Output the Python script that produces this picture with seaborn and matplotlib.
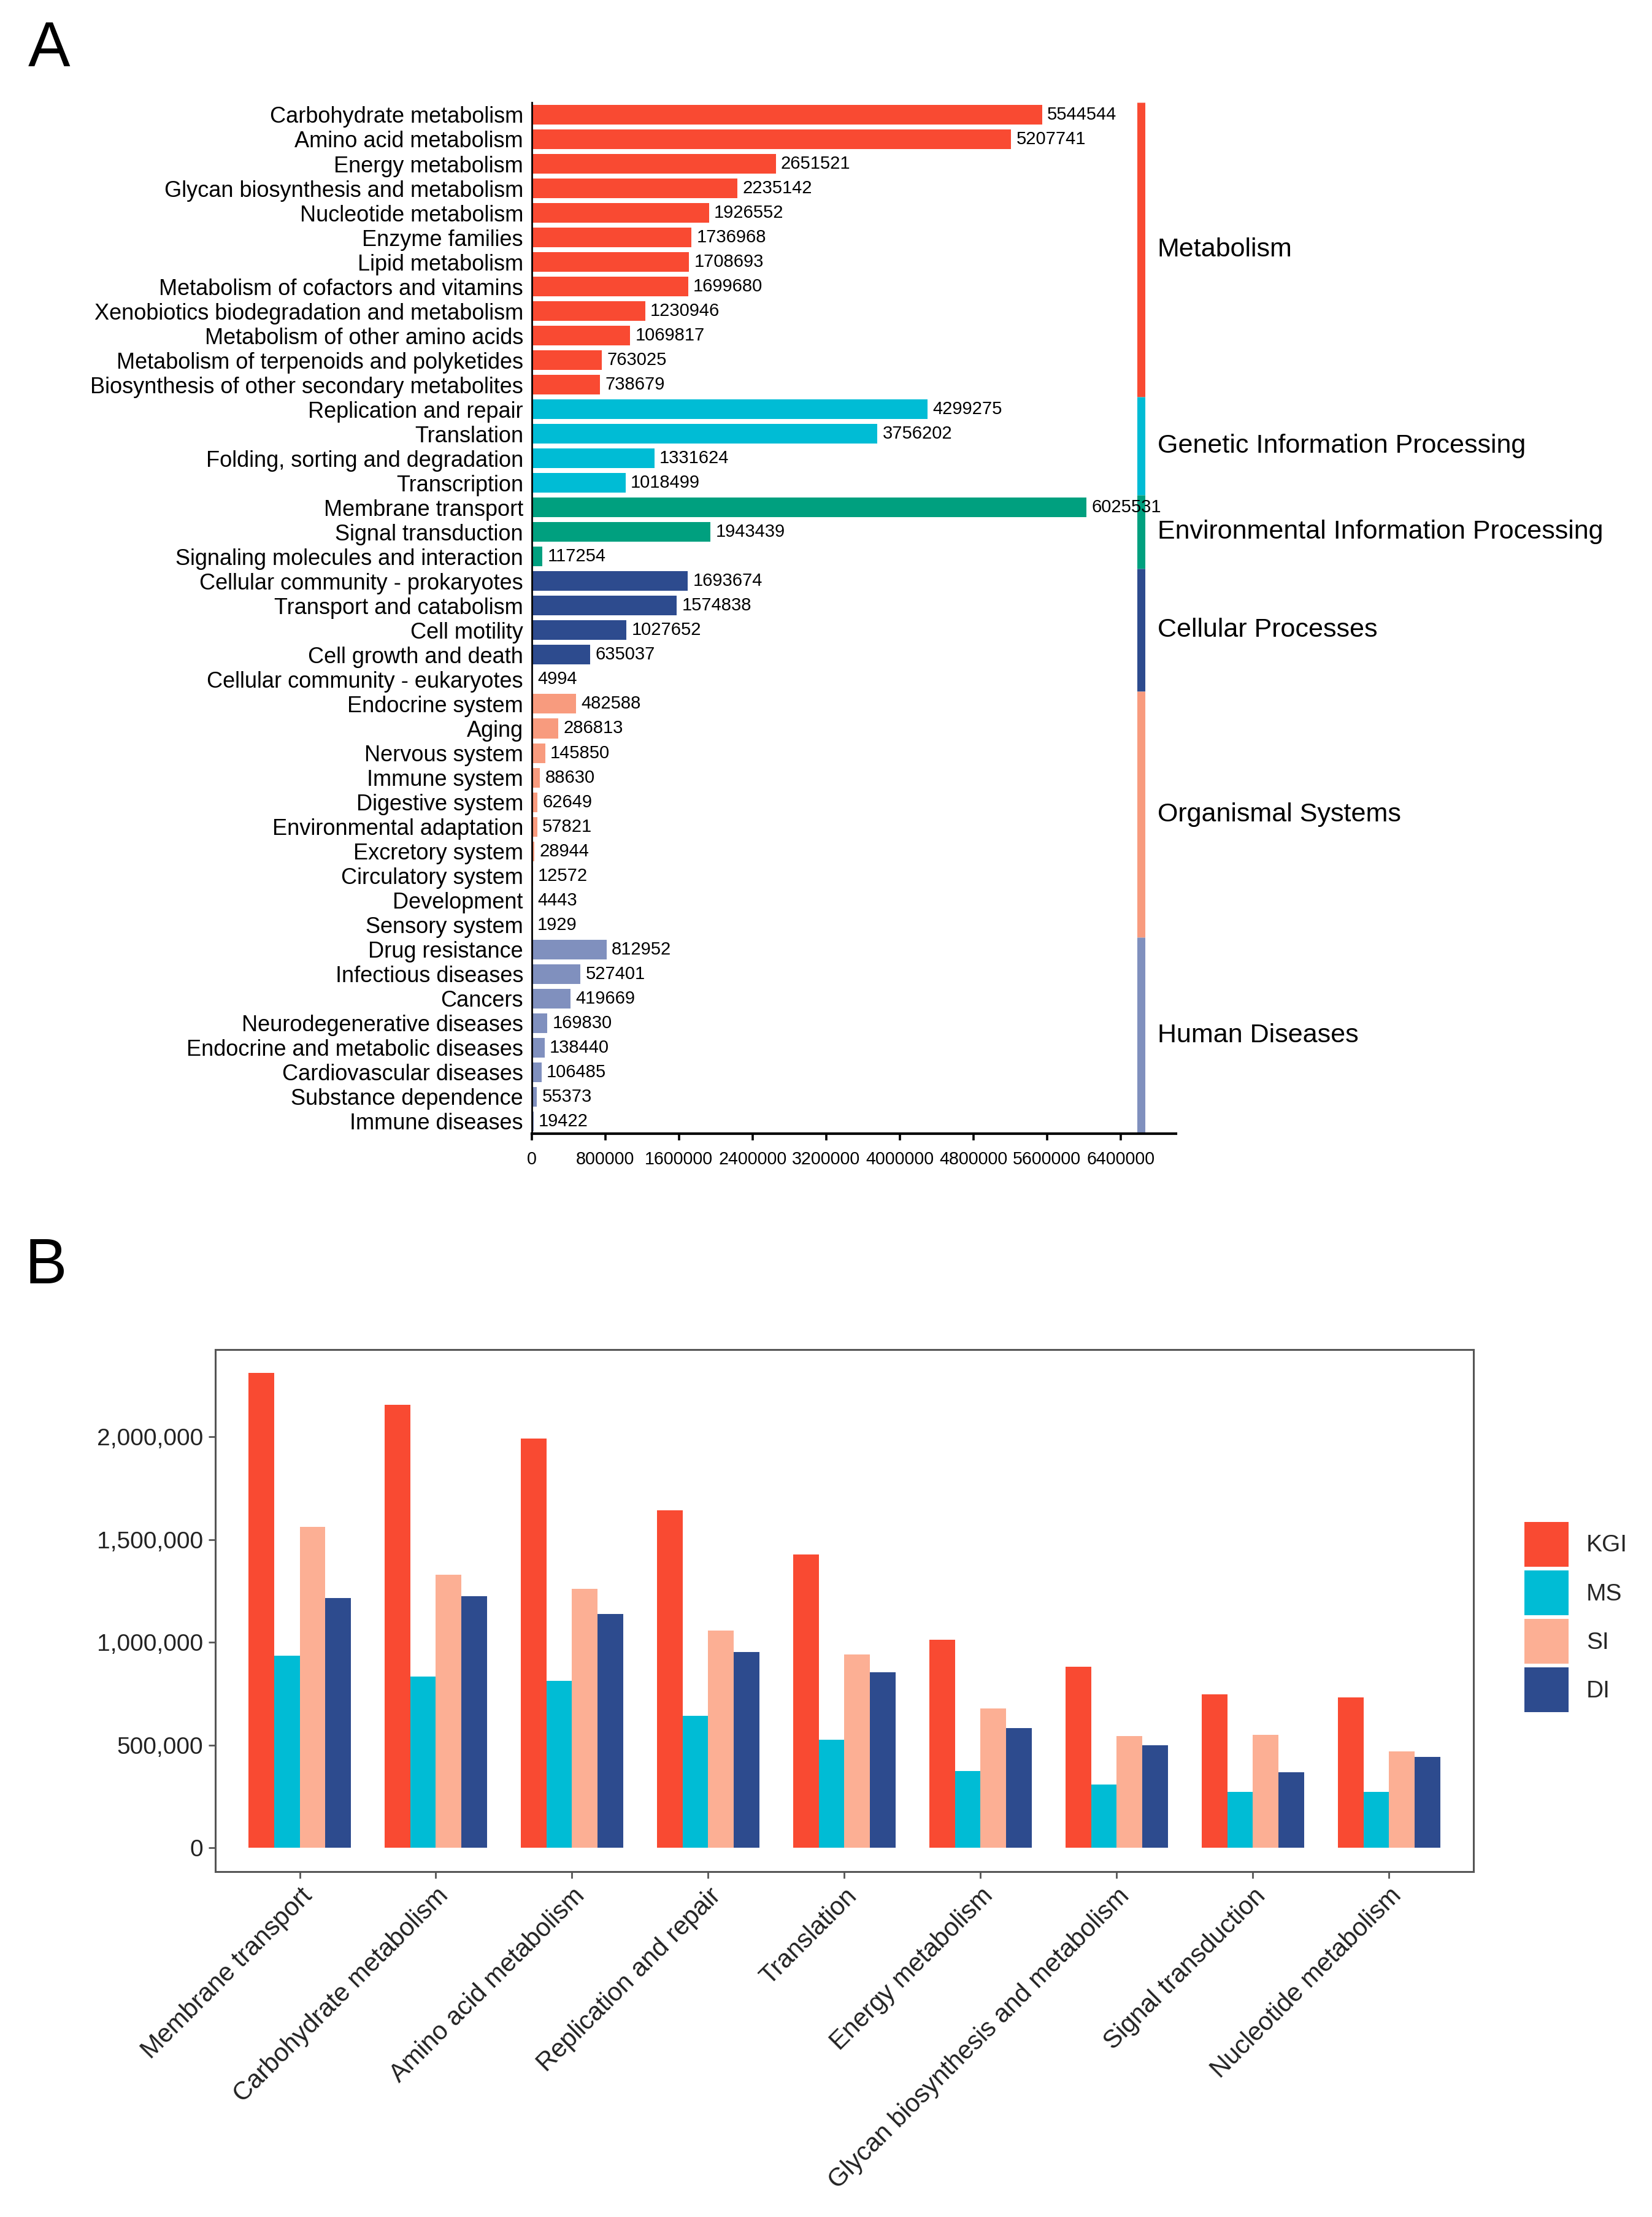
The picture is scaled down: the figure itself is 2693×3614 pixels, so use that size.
import pandas as pd
import matplotlib
matplotlib.use("Agg")
import matplotlib.pyplot as plt
import matplotlib.ticker as mticker
import seaborn as sns

# ---- panel A data (KEGG level 2 pathway counts) ----
pathways_a = [
    "Carbohydrate metabolism", "Amino acid metabolism", "Energy metabolism",
    "Glycan biosynthesis and metabolism", "Nucleotide metabolism", "Enzyme families",
    "Lipid metabolism", "Metabolism of cofactors and vitamins",
    "Xenobiotics biodegradation and metabolism", "Metabolism of other amino acids",
    "Metabolism of terpenoids and polyketides", "Biosynthesis of other secondary metabolites",
    "Replication and repair", "Translation", "Folding, sorting and degradation", "Transcription",
    "Membrane transport", "Signal transduction", "Signaling molecules and interaction",
    "Cellular community - prokaryotes", "Transport and catabolism", "Cell motility",
    "Cell growth and death", "Cellular community - eukaryotes",
    "Endocrine system", "Aging", "Nervous system", "Immune system", "Digestive system",
    "Environmental adaptation", "Excretory system", "Circulatory system", "Development",
    "Sensory system",
    "Drug resistance", "Infectious diseases", "Cancers", "Neurodegenerative diseases",
    "Endocrine and metabolic diseases", "Cardiovascular diseases", "Substance dependence",
    "Immune diseases",
]
counts_a = [
    5544544, 5207741, 2651521, 2235142, 1926552, 1736968, 1708693, 1699680, 1230946,
    1069817, 763025, 738679,
    4299275, 3756202, 1331624, 1018499,
    6025531, 1943439, 117254,
    1693674, 1574838, 1027652, 635037, 4994,
    482588, 286813, 145850, 88630, 62649, 57821, 28944, 12572, 4443, 1929,
    812952, 527401, 419669, 169830, 138440, 106485, 55373, 19422,
]
groups = ["Metabolism", "Genetic Information Processing", "Environmental Information Processing",
          "Cellular Processes", "Organismal Systems", "Human Diseases"]
group_sizes = [12, 4, 3, 5, 10, 8]
group_colors = ["#F94A32", "#00BCD5", "#00A07F", "#2D4B8E", "#F89B7E", "#8090BE"]

# ---- panel B data (top pathways per sample) ----
pathways_b = ["Membrane transport", "Carbohydrate metabolism", "Amino acid metabolism",
              "Replication and repair", "Translation", "Energy metabolism",
              "Glycan biosynthesis and metabolism", "Signal transduction", "Nucleotide metabolism"]
samples = ["KGI", "MS", "SI", "DI"]
kgi = [2309000, 2155000, 1990000, 1642000, 1426000, 1011000, 880000, 746000, 732000]
ms = [936000, 833000, 812000, 643000, 526000, 375000, 307000, 273000, 273000]
si = [1561000, 1328000, 1261000, 1057000, 941000, 679000, 543000, 550000, 471000]
di = [1216000, 1225000, 1138000, 952000, 855000, 582000, 498000, 369000, 442000]
sample_colors = ["#F94A32", "#00BCD5", "#FCAF94", "#2D4B8E"]

sns.set_theme(style="white")
plt.rcParams["font.family"] = ["Liberation Sans", "DejaVu Sans"]

fig = plt.figure(figsize=(2693 / 200, 3614 / 200), dpi=200)

# ================= panel A =================
group_col = []
for g, n in zip(groups, group_sizes):
    group_col += [g] * n
dfA = pd.DataFrame({"pathway": pathways_a, "count": counts_a, "group": group_col})

axA = fig.add_axes([0.3219, 0.4887, 0.3899, 0.4651])
sns.barplot(data=dfA, x="count", y="pathway", hue="group", hue_order=groups,
            palette=group_colors, dodge=False, orient="h", width=0.8,
            errorbar=None, legend=False, saturation=1, linewidth=0, ax=axA)
for c in axA.containers:
    axA.bar_label(c, fmt="%d", padding=3, fontsize=10.5, color="black")

axA.set_xlim(0, 7000000)
axA.set_ylim(len(pathways_a) - 0.5, -0.5)
axA.set_xticks(range(0, 6400001, 800000))
axA.xaxis.set_major_formatter(mticker.FuncFormatter(lambda v, p: f"{int(v)}"))
axA.set_xlabel("")
axA.set_ylabel("")
axA.tick_params(axis="y", length=0, pad=5, labelsize=13, colors="black")
axA.tick_params(axis="x", length=4, width=1.3, direction="out", pad=6, labelsize=10.3,
                colors="black", bottom=True)
for s in ["top", "right"]:
    axA.spines[s].set_visible(False)
axA.spines["left"].set_color("black")
axA.spines["left"].set_linewidth(1.0)
axA.spines["bottom"].set_color("black")
axA.spines["bottom"].set_linewidth(1.5)

# category strip on the right
start = 0
for g, n, col in zip(groups, group_sizes, group_colors):
    axA.vlines(6620000, start - 0.5, start + n - 0.5, colors=col, lw=4.7)
    axA.text(6800000, start + (n - 1) / 2, g, va="center", ha="left", fontsize=15.5,
             color="black", clip_on=False)
    start += n

fig.text(0.017, 0.991, "A", fontsize=37, va="top", ha="left", color="black")

# ================= panel B =================
dfB = pd.DataFrame({"pathway": pathways_b, "KGI": kgi, "MS": ms, "SI": si, "DI": di})
dfB = dfB.melt(id_vars="pathway", var_name="sample", value_name="count")

axB = fig.add_axes([0.1303, 0.1558, 0.7616, 0.2355])
sns.barplot(data=dfB, x="pathway", y="count", hue="sample", hue_order=samples,
            palette=sample_colors, width=0.75, errorbar=None, saturation=1,
            linewidth=0, ax=axB)
axB.set_xlim(-0.62, len(pathways_b) - 1 + 0.62)
axB.set_ylim(-115000, 2424000)
axB.set_yticks(range(0, 2000001, 500000))
axB.yaxis.set_major_formatter(mticker.FuncFormatter(lambda v, p: f"{v:,.0f}"))
axB.set_xlabel("")
axB.set_ylabel("")
axB.tick_params(axis="both", length=4, width=1.0, colors="#555555", labelcolor="#222222",
                labelsize=14, pad=3, direction="out", left=True, bottom=True)
axB.tick_params(axis="x", labelsize=15)
plt.setp(axB.get_xticklabels(), rotation=45, ha="right", va="top", rotation_mode="anchor")
for s in axB.spines.values():
    s.set_visible(True)
    s.set_color("#555555")
    s.set_linewidth(1.1)

axB.legend(title=None, loc="upper left", bbox_to_anchor=(0.9228, 0.3135),
           bbox_transform=fig.transFigure, frameon=False, borderpad=0, borderaxespad=0,
           fontsize=14, handlelength=1.85, handleheight=2.52, labelspacing=0.15,
           handletextpad=0.75)

fig.text(0.015, 0.442, "B", fontsize=37, va="top", ha="left", color="black")

fig.savefig("out.png", dpi=200, facecolor="white")
